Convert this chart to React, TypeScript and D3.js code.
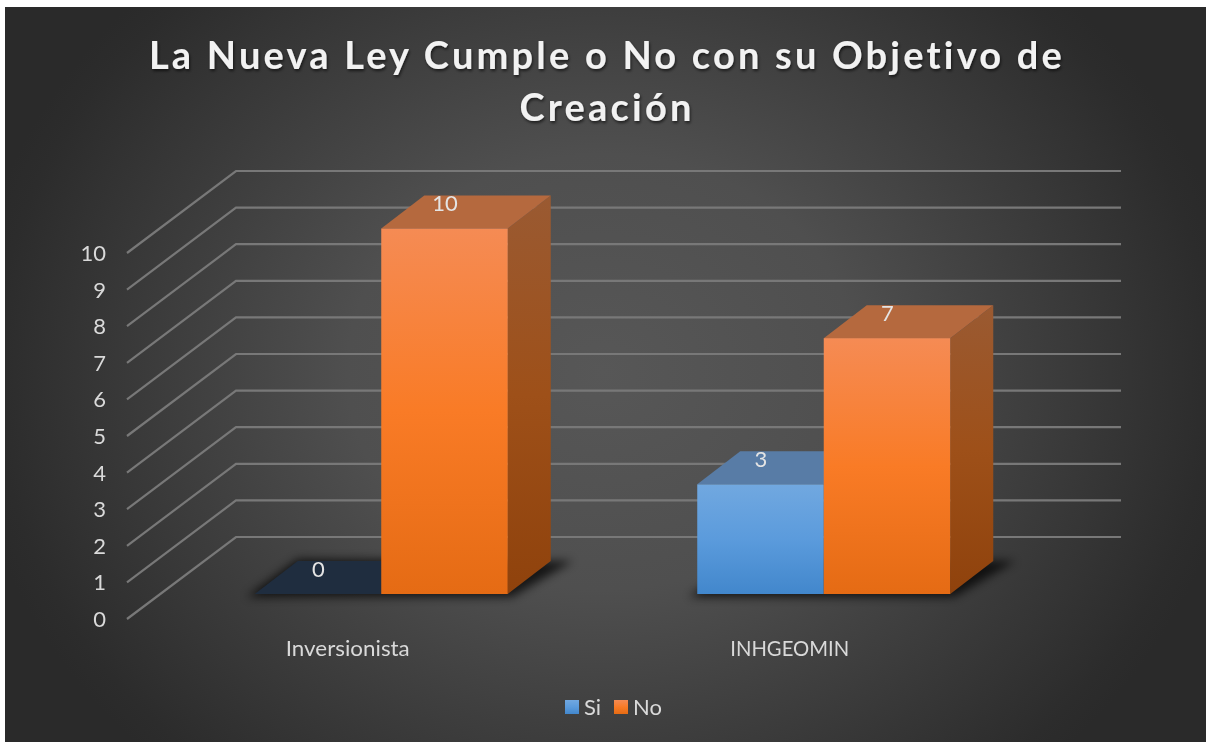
import React from "react";
import * as d3 from "d3";

const categories = ["Inversionista", "INHGEOMIN"];
const seriesNames = ["Si", "No"];
const siValues = [0, 3];
const noValues = [10, 7];
const valueTicks = [0, 1, 2, 3, 4, 5, 6, 7, 8, 9, 10];
const titleLines = ["La Nueva Ley Cumple o No con su Objetivo de", "Creación"];

const FONT = "Lato, 'Open Sans', sans-serif";
const W = 1206, H = 742;
const DX = 43, DY = 33;

const yFront = d3.scaleLinear().domain([0, 10]).range([594, 228.5]);
const yGrid = d3.scaleLinear().domain([0, 10]).range([537, 171]);
const yTick = d3.scaleLinear().domain([0, 10]).range([619, 253]);
const xCat = d3.scaleBand<string>().domain(categories).range([160, 1045]);
const xSer = d3.scaleBand<string>().domain(seriesNames).range([0, 253]);

const palette: Record<string, { front: string; top: string; side: string; grad: string }> = {
  Si: { front: "#5b9bd5", top: "#587ca6", side: "#3a6a9a", grad: "url(#gSi)" },
  No: { front: "#ed7d31", top: "#b5693e", side: "url(#gSide)", grad: "url(#gNo)" },
};

type Bar = { cat: string; ser: string; value: number; x0: number; x1: number; y: number };
const bars: Bar[] = categories.flatMap((cat, i) =>
  seriesNames.map((ser) => {
    const value = ser === "Si" ? siValues[i] : noValues[i];
    const x0 = (xCat(cat) as number) + (xCat.bandwidth() - xSer.range()[1]) / 2 + (xSer(ser) as number);
    return { cat, ser, value, x0, x1: x0 + xSer.bandwidth(), y: yFront(value) };
  })
);

const base = yFront(0);

export default function App() {
  return (
    <svg
      width={W}
      height={H}
      viewBox={`0 0 ${W} ${H}`}
      style={{ position: "fixed", left: 0, top: 0, display: "block", background: "#fff" }}
    >
      <defs>
        <radialGradient id="bg" gradientUnits="userSpaceOnUse" cx={603} cy={372} r={640} gradientTransform="translate(603 372) scale(1 0.85) translate(-603 -372)">
          <stop offset="0" stopColor="#575757" />
          <stop offset="0.4" stopColor="#4f4f4f" />
          <stop offset="0.65" stopColor="#3f3f3f" />
          <stop offset="0.95" stopColor="#2c2c2c" />
          <stop offset="1" stopColor="#2a2a2a" />
        </radialGradient>
        <linearGradient id="gNo" x1="0" y1="0" x2="0" y2="1">
          <stop offset="0" stopColor="#f58b54" />
          <stop offset="0.5" stopColor="#f97b26" />
          <stop offset="1" stopColor="#e56b14" />
        </linearGradient>
        <linearGradient id="gSi" x1="0" y1="0" x2="0" y2="1">
          <stop offset="0" stopColor="#71a8e0" />
          <stop offset="0.5" stopColor="#5b9bdc" />
          <stop offset="1" stopColor="#4287cc" />
        </linearGradient>
        <linearGradient id="gSide" x1="0" y1="0" x2="0" y2="1">
          <stop offset="0" stopColor="#9a5a32" />
          <stop offset="0.5" stopColor="#9e5019" />
          <stop offset="1" stopColor="#8f420c" />
        </linearGradient>
        <filter id="blur" x="-20%" y="-50%" width="140%" height="200%">
          <feGaussianBlur stdDeviation="5" />
        </filter>
        <filter id="soft" x="-5%" y="-20%" width="110%" height="150%">
          <feGaussianBlur stdDeviation="0.4" />
        </filter>
        <filter id="titleShadow" x="-5%" y="-20%" width="110%" height="150%">
          <feGaussianBlur in="SourceGraphic" stdDeviation="0.4" result="s" />
          <feDropShadow in="s" dx="1" dy="2" stdDeviation="1.6" floodColor="#000" floodOpacity="0.6" />
        </filter>
      </defs>

      <rect x={5} y={7} width={W - 5} height={H - 7} fill="url(#bg)" />

      <g textAnchor="middle" fontFamily={FONT} fontWeight={700} fontSize={38} fill="#f2f2f2" letterSpacing={3.2} filter="url(#titleShadow)">
        {titleLines.map((t, i) => (
          <text key={t} x={607} y={69 + i * 52}>{t}</text>
        ))}
      </g>

      <g stroke="#787878" strokeWidth={2.2} fill="none" filter="url(#soft)">
        {valueTicks.map((v) => (
          <path
            key={v}
            d={d3.line()([
              [127, yTick(v)],
              [236, yGrid(v)],
              [1121, yGrid(v)],
            ]) as string}
          />
        ))}
      </g>

      <g fontFamily={FONT} fontSize={22} fill="#d9d9d9" textAnchor="end" filter="url(#soft)">
        {valueTicks.map((v) => (
          <text key={v} x={106} y={yTick(v) + 8}>{v}</text>
        ))}
      </g>

      {/* ground shadows */}
      {categories.map((cat) => {
        const group = bars.filter((b) => b.cat === cat);
        const l = group[0].x0, r = group[1].x1;
        return (
          <path
            key={cat}
            d={`M${l - 8},${base + 3}L${r + 4},${base + 3}L${r + DX + 22},${base - DY}L${l + DX},${base - DY - 2}Z`}
            fill="#000"
            opacity={0.72}
            filter="url(#blur)"
          />
        );
      })}

      {bars.map((b) => {
        const c = palette[b.ser];
        const h = base - b.y;
        if (b.value === 0) {
          return (
            <path
              key={b.cat + b.ser}
              d={`M${b.x0},${base}L${b.x1},${base}L${b.x1 + DX},${base - DY}L${b.x0 + DX},${base - DY}Z`}
              fill="#1f2d3f"
            />
          );
        }
        return (
          <g key={b.cat + b.ser}>
            <path d={`M${b.x1},${b.y}L${b.x1 + DX},${b.y - DY}L${b.x1 + DX},${base - DY}L${b.x1},${base}Z`} fill={c.side} />
            <path d={`M${b.x0},${b.y}L${b.x0 + DX},${b.y - DY}L${b.x1 + DX},${b.y - DY}L${b.x1},${b.y}Z`} fill={c.top} />
            <rect x={b.x0} y={b.y} width={b.x1 - b.x0} height={h} fill={c.grad} />
          </g>
        );
      })}

      <g fontFamily={FONT} fontSize={22} fill="#e4e4e4" textAnchor="middle" filter="url(#soft)">
        {bars.map((b) => (
          <text key={b.cat + b.ser} x={(b.x0 + b.x1) / 2 + 0.5} y={b.y - 17.5}>{b.value}</text>
        ))}
      </g>

      <g fontFamily={FONT} fontSize={22} fill="#d9d9d9" textAnchor="middle" filter="url(#soft)">
        {categories.map((cat, i) => (
          <text
            key={cat}
            x={(xCat(cat) as number) + xCat.bandwidth() / 2 - (i === 0 ? 33.5 : 34)}
            y={656}
            textLength={i === 0 ? 124 : 119}
            lengthAdjust="spacingAndGlyphs"
          >
            {cat}
          </text>
        ))}
      </g>

      <g fontFamily={FONT} fontSize={22} fill="#d9d9d9" filter="url(#soft)">
        {seriesNames.map((s, i) => (
          <g key={s} transform={`translate(${565 + i * 49},700)`}>
            <rect width={14} height={14} fill={palette[s].grad} />
            <text x={19} y={14.5}>{s}</text>
          </g>
        ))}
      </g>
    </svg>
  );
}
